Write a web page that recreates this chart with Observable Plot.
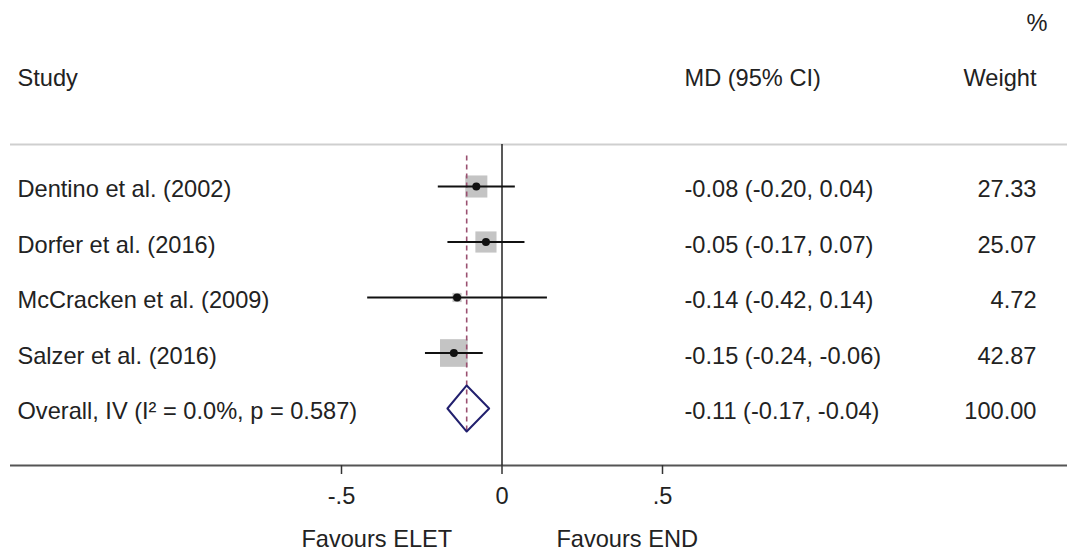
<!DOCTYPE html>
<html><head><meta charset="utf-8">
<script src="https://cdn.jsdelivr.net/npm/d3@7"></script>
<script src="https://cdn.jsdelivr.net/npm/@observablehq/plot@0.6"></script>
<style>html,body{margin:0;padding:0;background:#fff} svg{display:block}</style>
</head><body><div id="chart"></div>
<script>
// ---- data ----
const studies = ["Dentino et al. (2002)", "Dorfer et al. (2016)", "McCracken et al. (2009)", "Salzer et al. (2016)"];
const mdValues = [-0.08, -0.05, -0.14, -0.15];
const ciLow = [-0.20, -0.17, -0.42, -0.24];
const ciHigh = [0.04, 0.07, 0.14, -0.06];
const weights = [27.33, 25.07, 4.72, 42.87];
const overallLabel = "Overall, IV (I\u00B2 = 0.0%, p = 0.587)";
const overallMD = -0.11;
const overallLow = -0.17;
const overallHigh = -0.04;
const overallWeight = 100.00;
const headerLabels = ["Study", "MD (95% CI)", "Weight", "%"];
const tickValues = [-0.5, 0, 0.5];
const tickLabels = ["-.5", "0", ".5"];
const favourLabels = ["Favours ELET", "Favours END"];
const favourSide = [-0.39, 0.39];

// ---- derived table ----
const firstRow = 3;
const rows = studies.map((s, i) => ({study: s, md: mdValues[i], lo: ciLow[i], hi: ciHigh[i], w: weights[i], row: firstRow + i}));
const overallRow = firstRow + studies.length;
const fmtCI = (m, l, h) => `${m.toFixed(2)} (${l.toFixed(2)}, ${h.toFixed(2)})`;
const textRows = rows.map(d => ({label: d.study, ci: fmtCI(d.md, d.lo, d.hi), w: d.w.toFixed(2), row: d.row}))
  .concat([{label: overallLabel, ci: fmtCI(overallMD, overallLow, overallHigh), w: overallWeight.toFixed(2), row: overallRow}]);
const header = [{label: headerLabels[0], ci: headerLabels[1], w: headerLabels[2], row: 1}];
const pct = [{w: headerLabels[3], row: 0}];
const dh = 0.415;
const diamond = [
  {x: overallLow, y: overallRow}, {x: overallMD, y: overallRow - dh},
  {x: overallHigh, y: overallRow}, {x: overallMD, y: overallRow + dh},
  {x: overallLow, y: overallRow}
];
const favours = favourLabels.map((t, i) => ({t, x: favourSide[i]}));

const W = 1067, H = 551;
const mL = 10, mR = 0, mT = 144, mB = 86;
const pxPerUnit = 321, zeroPx = 501.5;
const rowPx = 55.5, row0Px = 19.5;
const FS = 23.6;
const txt = "#222";

const chart = Plot.plot({
  width: W, height: H,
  marginLeft: mL, marginRight: mR, marginTop: mT, marginBottom: mB,
  style: {fontFamily: "'Liberation Sans', Arial, Helvetica, sans-serif", background: "#fff", color: txt},
  x: {domain: [(mL - zeroPx) / pxPerUnit, (W - mR - zeroPx) / pxPerUnit]},
  y: {domain: [(mT - row0Px) / rowPx, (H - mB - row0Px) / rowPx], reverse: true, axis: null},
  r: {type: "sqrt", domain: [0, d3.max(weights)], range: [0, 15.6]},
  marks: [
    // separator lines
    Plot.ruleY([(mT - row0Px) / rowPx], {stroke: "#cfcfcf", strokeWidth: 2}),
    Plot.ruleY([(H - mB - row0Px) / rowPx], {stroke: "#555", strokeWidth: 2}),
    // weight boxes
    Plot.dot(rows, {x: "md", y: "row", r: "w", symbol: "square", fill: "#c4c4c4", stroke: null}),
    // overall dashed line
    Plot.ruleX([overallMD], {y1: firstRow - 0.55, y2: overallRow + dh, stroke: "#9a5070", strokeWidth: 1.6, strokeDasharray: "5,4"}),
    // zero line
    Plot.ruleX([0], {stroke: "#222", strokeWidth: 1.5}),
    // CIs
    Plot.link(rows, {x1: "lo", x2: "hi", y1: "row", y2: "row", stroke: "#111", strokeWidth: 2.2}),
    Plot.dot(rows, {x: "md", y: "row", r: 4, fill: "#111", stroke: null}),
    // diamond
    Plot.line(diamond, {x: "x", y: "y", stroke: "#22206e", strokeWidth: 2}),
    // text columns
    Plot.text(textRows.concat(header), {y: "row", text: "label", frameAnchor: "left", dx: 7, dy: 3, textAnchor: "start", fontSize: FS, fill: txt}),
    Plot.text(textRows.concat(header), {y: "row", text: "ci", frameAnchor: "left", dx: 674, dy: 3, textAnchor: "start", fontSize: FS, fill: txt}),
    Plot.text(textRows.concat(header), {y: "row", text: "w", frameAnchor: "right", dx: -31, dy: 3, textAnchor: "end", fontSize: FS, fill: txt}),
    Plot.text(pct, {y: "row", text: "w", frameAnchor: "right", dx: -20, dy: 3, textAnchor: "end", fontSize: FS, fill: txt}),
    // x axis
    Plot.axisX({ticks: tickValues, tickFormat: d => tickLabels[tickValues.indexOf(d)], tickSize: 9, tickPadding: 13, fontSize: FS, label: null, anchor: "bottom", strokeWidth: 1.5, stroke: "#333", fill: txt}),
    // favours labels
    Plot.text(favours, {x: "x", text: "t", frameAnchor: "bottom", lineAnchor: "middle", dy: 74, fontSize: FS, fill: txt})
  ]
});
document.getElementById("chart").append(chart);
</script>
</body></html>
